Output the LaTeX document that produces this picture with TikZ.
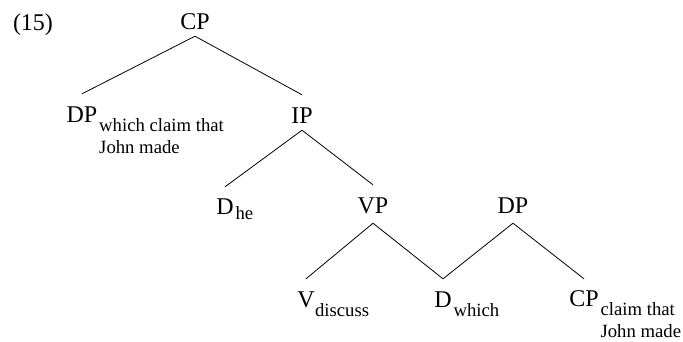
\documentclass[tikz,border=0pt]{standalone}
\usepackage{fontspec}
\setmainfont{Liberation Serif}
\begin{document}
\begin{tikzpicture}[x=1pt,y=-1pt,
  lab/.style={font=\fontsize{24}{28}\selectfont, inner sep=0pt, anchor=base, text height=16pt, text depth=0pt},
  sub/.style={font=\fontsize{18.7}{22.5}\selectfont, inner sep=0pt, anchor=base west, xshift=1.5pt, yshift=-9pt},
  edge/.style={line width=0.8pt}]
\useasboundingbox (0,0) rectangle (683,341);
\node[lab] (num) at (33,30) {(15)};
\node[lab] (cp) at (195,29) {CP};
\node[lab] (dpl) at (82,122) {DP};
\node[sub] (dpls) at (dpl.base east) {\begin{tabular}[t]{@{}l@{}}which claim that\\John made\end{tabular}};
\node[lab] (ip) at (302,123) {IP};
\node[lab] (dhe) at (225,214) {D};
\node[sub, yshift=4pt] (dhes) at (dhe.base east) {he};
\node[lab] (vp) at (373,213) {VP};
\node[lab] (dpr) at (513,213) {DP};
\node[lab] (v) at (306,307) {V};
\node[sub, xshift=-1.5pt] (vs) at (v.base east) {discuss};
\node[lab] (dw) at (443,307) {D};
\node[sub] (dws) at (dw.base east) {which};
\node[lab] (cpr) at (584,306) {CP};
\node[sub] (cprs) at (cpr.base east) {\begin{tabular}[t]{@{}l@{}}claim that\\John made\end{tabular}};
\draw[edge] ([yshift=-7pt]cp.south) -- ([yshift=12pt]dpl.north);
\draw[edge] ([yshift=-7pt]cp.south) -- ([yshift=12pt]ip.north);
\draw[edge] ([yshift=-7pt]ip.south) -- ([yshift=11pt]dhe.north);
\draw[edge] ([yshift=-7pt]ip.south) -- ([yshift=12pt]vp.north);
\draw[edge] ([yshift=-10pt]vp.south) -- ([yshift=12pt]v.north);
\draw[edge] ([yshift=-10pt]vp.south) -- ([yshift=12pt]dw.north);
\draw[edge] ([yshift=-10pt]dpr.south) -- ([yshift=12pt]dw.north);
\draw[edge] ([yshift=-10pt]dpr.south) -- ([yshift=11pt]cpr.north);
\end{tikzpicture}
\end{document}
